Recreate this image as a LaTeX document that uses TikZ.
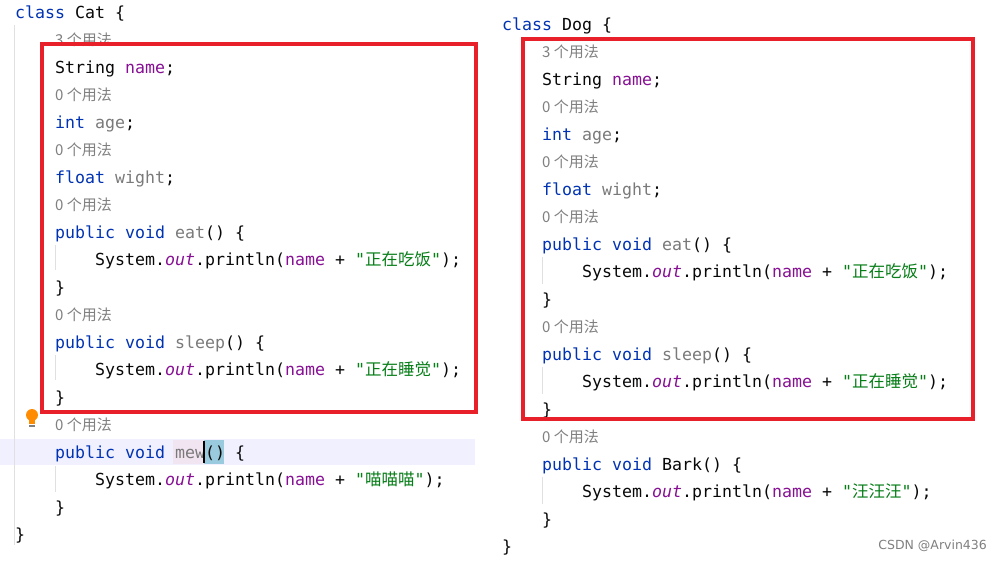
\documentclass[tikz,border=0pt]{standalone}
\usepackage{fontspec}
\setmonofont{DejaVu Sans Mono}
\setsansfont{DejaVu Sans}
\newfontfamily\cjk{Noto Sans CJK SC}
\definecolor{kw}{HTML}{0033B3}
\definecolor{fld}{HTML}{871094}
\definecolor{str}{HTML}{067D17}
\definecolor{hint}{HTML}{808080}
\definecolor{txt}{HTML}{080808}
\definecolor{mth}{HTML}{7A7A7A}
\definecolor{redbox}{HTML}{E8202A}
\newcommand\kw[1]{\textcolor{kw}{#1}}
\newcommand\fld[1]{\textcolor{fld}{#1}}
\newcommand\mth[1]{\textcolor{mth}{#1}}
\newcommand\str[1]{\textcolor{str}{"{\cjk\fontsize{16.5}{18}\selectfont #1}"}}
\newcommand\outf{\textcolor{fld}{\itshape out}}
\begin{document}
\begin{tikzpicture}[x=1pt,y=-1pt,
  code/.style={anchor=west,inner sep=0pt,yshift=-1.5pt,font=\ttfamily\fontsize{16.6}{18}\selectfont,text=txt},
  hintt/.style={anchor=west,inner sep=0pt,yshift=-1pt,font=\cjk\fontsize{15}{17}\selectfont,text=hint},
  box/.style={draw=redbox,line width=4pt},
  guide/.style={draw=black!12,line width=0.6pt}]
\useasboundingbox[fill=white] (0,0) rectangle (1001,561);
% mew highlight
\fill[blue!6] (0,439) rectangle (475,465);
\fill[violet!10] (173,440) rectangle (204,464);
\fill[cyan!40!teal!45] (204,440) rectangle (224,464);
% indent guides
\draw[guide] (14,25) -- (14,545);
\draw[guide] (55,245) -- (55,270); \draw[guide] (55,355) -- (55,380); \draw[guide] (55,466) -- (55,492);
\draw[guide] (542,257) -- (542,284); \draw[guide] (542,367) -- (542,394); \draw[guide] (542,477) -- (542,504);
% Cat
\node[code] (c0) at (15,12) {\kw{class} Cat \{};
\node[hintt] (c1) at (55,39) {3 个用法};
\node[code] (c2) at (55,67) {String \fld{name};};
\node[hintt] (c3) at (55,94) {0 个用法};
\node[code] (c4) at (55,122) {\kw{int} \mth{age};};
\node[hintt] (c5) at (55,149) {0 个用法};
\node[code] (c6) at (55,177) {\kw{float} \mth{wight};};
\node[hintt] (c7) at (55,204) {0 个用法};
\node[code] (c8) at (55,232) {\kw{public} \kw{void} \mth{eat}() \{};
\node[code] (c9) at (95,259) {System.\outf.println(\fld{name} + \str{正在吃饭});};
\node[code] (c10) at (55,287) {\}};
\node[hintt] (c11) at (55,314) {0 个用法};
\node[code] (c12) at (55,342) {\kw{public} \kw{void} \mth{sleep}() \{};
\node[code] (c13) at (95,369) {System.\outf.println(\fld{name} + \str{正在睡觉});};
\node[code] (c14) at (55,397) {\}};
\node[hintt] (c15) at (55,424) {0 个用法};
\node[code] (c16) at (55,452) {\kw{public} \kw{void} \mth{mew}() \{};
\node[code] (c17) at (95,479) {System.\outf.println(\fld{name} + \str{喵喵喵});};
\node[code] (c18) at (55,507) {\}};
\node[code] (c19) at (15,534) {\}};
\draw[black,line width=1.5pt] (204,441) -- (204,463);
% bulb
\fill[orange!90!yellow] (32,415) circle (6);
\fill[orange!90!yellow] (29,419) rectangle (35,424);
\fill[gray] (29,425) rectangle (35,427);
% Dog
\node[code] (d0) at (502,24) {\kw{class} Dog \{};
\node[hintt] (d1) at (542,51) {3 个用法};
\node[code] (d2) at (542,79) {String \fld{name};};
\node[hintt] (d3) at (542,106) {0 个用法};
\node[code] (d4) at (542,134) {\kw{int} \mth{age};};
\node[hintt] (d5) at (542,161) {0 个用法};
\node[code] (d6) at (542,189) {\kw{float} \mth{wight};};
\node[hintt] (d7) at (542,216) {0 个用法};
\node[code] (d8) at (542,244) {\kw{public} \kw{void} \mth{eat}() \{};
\node[code] (d9) at (582,271) {System.\outf.println(\fld{name} + \str{正在吃饭});};
\node[code] (d10) at (542,299) {\}};
\node[hintt] (d11) at (542,326) {0 个用法};
\node[code] (d12) at (542,354) {\kw{public} \kw{void} \mth{sleep}() \{};
\node[code] (d13) at (582,381) {System.\outf.println(\fld{name} + \str{正在睡觉});};
\node[code] (d14) at (542,409) {\}};
\node[hintt] (d15) at (542,436) {0 个用法};
\node[code] (d16) at (542,464) {\kw{public} \kw{void} \textcolor{txt}{Bark}() \{};
\node[code] (d17) at (582,491) {System.\outf.println(\fld{name} + \str{汪汪汪});};
\node[code] (d18) at (542,519) {\}};
\node[code] (d19) at (502,546) {\}};
% red boxes
\draw[box] (42,44) rectangle (476,412);
\draw[box] (523,39) rectangle (973,419);
% watermark
\node[anchor=east,inner sep=0pt,font=\sffamily\fontsize{12.5}{14}\selectfont,text=gray] (wm) at (987,546) {CSDN @Arvin436};
\end{tikzpicture}
\end{document}
